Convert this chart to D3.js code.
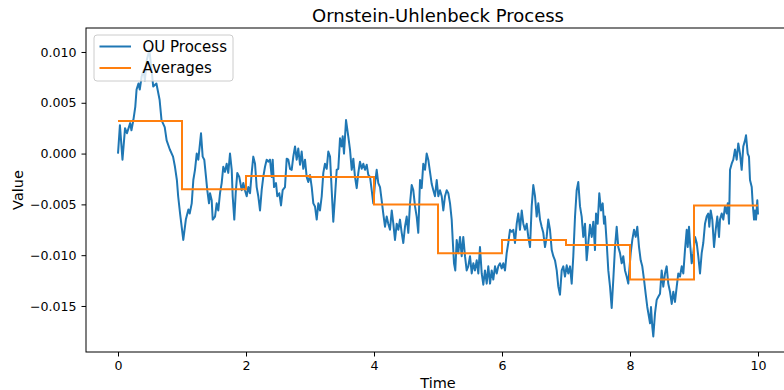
<!DOCTYPE html>
<html>
<head>
<meta charset="utf-8">
<script src="https://cdn.jsdelivr.net/npm/d3@7"></script>
<style>
  body { margin: 0; background: #fff; }
  svg { display: block; font-family: "DejaVu Sans", sans-serif; }
</style>
</head>
<body>
<svg id="chart" width="784" height="390"></svg>
<script>
// OU process
const times = [
  0.000, 0.030, 0.070, 0.110, 0.140, 0.190, 0.210, 0.240, 0.270, 0.290,
  0.320, 0.340, 0.370, 0.400, 0.420, 0.450, 0.490, 0.530, 0.550, 0.600,
  0.650, 0.680, 0.730, 0.760, 0.810, 0.860, 0.890, 0.920, 0.940, 0.970,
  1.020, 1.060, 1.100, 1.120, 1.152, 1.177, 1.203, 1.230, 1.255, 1.281,
  1.297, 1.323, 1.348, 1.375, 1.395, 1.422, 1.438, 1.464, 1.480, 1.516,
  1.542, 1.567, 1.594, 1.620, 1.645, 1.672, 1.698, 1.723, 1.750, 1.777,
  1.792, 1.817, 1.839, 1.864, 1.895, 1.933, 1.958, 1.984, 2.011, 2.036,
  2.063, 2.089, 2.114, 2.141, 2.167, 2.192, 2.219, 2.245, 2.270, 2.297,
  2.323, 2.348, 2.375, 2.402, 2.417, 2.438, 2.469, 2.489, 2.520, 2.547,
  2.573, 2.609, 2.636, 2.661, 2.688, 2.714, 2.739, 2.766, 2.792, 2.817,
  2.844, 2.870, 2.895, 2.922, 2.948, 2.973, 3.000, 3.027, 3.052, 3.078,
  3.105, 3.130, 3.156, 3.183, 3.208, 3.234, 3.261, 3.286, 3.313, 3.339,
  3.364, 3.391, 3.417, 3.442, 3.469, 3.495, 3.511, 3.531, 3.563, 3.598,
  3.625, 3.652, 3.677, 3.703, 3.730, 3.755, 3.781, 3.808, 3.833, 3.859,
  3.886, 3.911, 3.938, 3.964, 3.989, 4.016, 4.042, 4.067, 4.094, 4.120,
  4.145, 4.172, 4.198, 4.223, 4.250, 4.277, 4.302, 4.328, 4.355, 4.380,
  4.406, 4.433, 4.458, 4.484, 4.511, 4.536, 4.563, 4.589, 4.614, 4.641,
  4.667, 4.692, 4.719, 4.745, 4.770, 4.797, 4.823, 4.848, 4.875, 4.902,
  4.927, 4.953, 4.980, 5.005, 5.031, 5.058, 5.083, 5.109, 5.136, 5.161,
  5.188, 5.214, 5.230, 5.250, 5.270, 5.292, 5.317, 5.344, 5.370, 5.395,
  5.422, 5.448, 5.473, 5.500, 5.527, 5.552, 5.578, 5.605, 5.630, 5.656,
  5.683, 5.708, 5.734, 5.761, 5.786, 5.813, 5.839, 5.864, 5.891, 5.917,
  5.942, 5.969, 5.995, 6.020, 6.047, 6.073, 6.098, 6.125, 6.152, 6.177,
  6.203, 6.230, 6.255, 6.281, 6.308, 6.333, 6.359, 6.386, 6.411, 6.438,
  6.464, 6.489, 6.516, 6.542, 6.567, 6.594, 6.620, 6.645, 6.672, 6.698,
  6.723, 6.750, 6.777, 6.802, 6.828, 6.855, 6.880, 6.906, 6.933, 6.958,
  6.984, 7.011, 7.036, 7.063, 7.089, 7.114, 7.141, 7.167, 7.192, 7.219,
  7.245, 7.270, 7.297, 7.323, 7.348, 7.375, 7.402, 7.427, 7.453, 7.469,
  7.495, 7.520, 7.547, 7.573, 7.594, 7.609, 7.636, 7.661, 7.688, 7.714,
  7.739, 7.766, 7.792, 7.817, 7.844, 7.870, 7.895, 7.922, 7.948, 7.973,
  7.989, 8.011, 8.036, 8.063, 8.089, 8.114, 8.141, 8.167, 8.192, 8.219,
  8.245, 8.270, 8.297, 8.313, 8.328, 8.348, 8.364, 8.391, 8.417, 8.442,
  8.469, 8.495, 8.520, 8.547, 8.573, 8.598, 8.625, 8.652, 8.677, 8.703,
  8.730, 8.755, 8.781, 8.808, 8.833, 8.859, 8.886, 8.902, 8.922, 8.938,
  8.964, 8.989, 9.016, 9.042, 9.067, 9.094, 9.120, 9.145, 9.172, 9.198,
  9.223, 9.239, 9.261, 9.286, 9.313, 9.339, 9.364, 9.391, 9.406, 9.433,
  9.458, 9.484, 9.511, 9.527, 9.547, 9.563, 9.589, 9.614, 9.641, 9.667,
  9.692, 9.719, 9.745, 9.770, 9.797, 9.813, 9.839, 9.859, 9.875, 9.902,
  9.917, 9.938, 9.953, 9.969, 9.989, 10.000
];

const ouValues = [
  0.0000, 0.0028, -0.0006, 0.0025, 0.0020, 0.0030, 0.0023, 0.0033, 0.0046, 0.0063,
  0.0069, 0.0063, 0.0076, 0.0082, 0.0072, 0.0092, 0.0102, 0.0079, 0.0066, 0.0069,
  0.0053, 0.0033, 0.0026, 0.0013, 0.0004, -0.0003, -0.0013, -0.0026, -0.0042, -0.0059,
  -0.0085, -0.0065, -0.0055, -0.0059, -0.0049, -0.0026, -0.0016, 0.0000, -0.0006, 0.0010,
  0.0020, -0.0003, -0.0006, -0.0023, -0.0036, -0.0049, -0.0039, -0.0046, -0.0065, -0.0062,
  -0.0049, -0.0056, -0.0039, -0.0029, -0.0013, -0.0018, -0.0010, -0.0019, 0.0000, -0.0016,
  -0.0042, -0.0065, -0.0039, -0.0019, -0.0023, -0.0036, -0.0029, -0.0036, -0.0042, -0.0033,
  -0.0039, -0.0019, -0.0003, -0.0010, -0.0033, -0.0042, -0.0056, -0.0036, -0.0023, -0.0013,
  -0.0006, -0.0008, -0.0006, -0.0023, -0.0006, -0.0033, -0.0029, -0.0042, -0.0039, -0.0051,
  -0.0036, -0.0033, -0.0005, -0.0006, -0.0015, -0.0016, -0.0003, 0.0007, -0.0006, 0.0005,
  -0.0011, 0.0002, -0.0015, -0.0006, -0.0023, -0.0028, -0.0021, -0.0033, -0.0049, -0.0052,
  -0.0065, -0.0049, -0.0056, -0.0042, -0.0019, -0.0010, -0.0015, 0.0002, -0.0003, -0.0036,
  -0.0067, -0.0042, -0.0016, -0.0015, 0.0015, 0.0007, 0.0017, 0.0000, 0.0033, 0.0017,
  0.0004, -0.0016, -0.0005, -0.0023, -0.0034, -0.0019, -0.0008, -0.0015, -0.0010, -0.0016,
  -0.0011, -0.0021, -0.0023, -0.0036, -0.0049, -0.0029, -0.0016, -0.0029, -0.0033, -0.0046,
  -0.0059, -0.0072, -0.0062, -0.0069, -0.0075, -0.0056, -0.0069, -0.0085, -0.0069, -0.0075,
  -0.0065, -0.0078, -0.0088, -0.0072, -0.0062, -0.0078, -0.0049, -0.0031, -0.0036, -0.0052,
  -0.0062, -0.0078, -0.0026, -0.0034, -0.0010, -0.0016, 0.0000, -0.0006, -0.0018, -0.0030,
  -0.0036, -0.0042, -0.0026, -0.0042, -0.0036, -0.0042, -0.0056, -0.0042, -0.0036, -0.0039,
  -0.0049, -0.0065, -0.0085, -0.0108, -0.0115, -0.0085, -0.0098, -0.0082, -0.0101, -0.0082,
  -0.0101, -0.0115, -0.0111, -0.0101, -0.0118, -0.0108, -0.0115, -0.0105, -0.0118, -0.0092,
  -0.0118, -0.0129, -0.0115, -0.0128, -0.0111, -0.0128, -0.0115, -0.0124, -0.0111, -0.0118,
  -0.0111, -0.0108, -0.0113, -0.0108, -0.0115, -0.0098, -0.0088, -0.0075, -0.0077, -0.0075,
  -0.0088, -0.0069, -0.0059, -0.0075, -0.0056, -0.0069, -0.0075, -0.0069, -0.0082, -0.0092,
  -0.0052, -0.0031, -0.0042, -0.0062, -0.0049, -0.0065, -0.0072, -0.0078, -0.0092, -0.0082,
  -0.0065, -0.0075, -0.0095, -0.0101, -0.0105, -0.0115, -0.0131, -0.0139, -0.0115, -0.0111,
  -0.0121, -0.0110, -0.0118, -0.0111, -0.0128, -0.0101, -0.0062, -0.0036, -0.0028, -0.0052,
  -0.0062, -0.0082, -0.0069, -0.0105, -0.0088, -0.0070, -0.0082, -0.0067, -0.0095, -0.0059,
  -0.0069, -0.0039, -0.0056, -0.0049, -0.0069, -0.0062, -0.0088, -0.0115, -0.0131, -0.0152,
  -0.0124, -0.0092, -0.0072, -0.0092, -0.0098, -0.0108, -0.0101, -0.0115, -0.0121, -0.0128,
  -0.0115, -0.0098, -0.0085, -0.0075, -0.0082, -0.0072, -0.0092, -0.0105, -0.0111, -0.0124,
  -0.0138, -0.0151, -0.0161, -0.0167, -0.0151, -0.0170, -0.0180, -0.0157, -0.0144, -0.0141,
  -0.0138, -0.0115, -0.0131, -0.0118, -0.0111, -0.0128, -0.0136, -0.0148, -0.0136, -0.0146,
  -0.0131, -0.0118, -0.0121, -0.0111, -0.0118, -0.0095, -0.0075, -0.0092, -0.0072, -0.0088,
  -0.0108, -0.0098, -0.0082, -0.0088, -0.0101, -0.0118, -0.0098, -0.0088, -0.0069, -0.0062,
  -0.0059, -0.0072, -0.0056, -0.0065, -0.0092, -0.0075, -0.0062, -0.0082, -0.0065, -0.0059,
  -0.0065, -0.0052, -0.0059, -0.0049, -0.0069, -0.0016, -0.0010, -0.0006, 0.0004, -0.0006,
  0.0010, 0.0000, -0.0016, 0.0007, 0.0013, 0.0018, 0.0000, -0.0003, -0.0026, -0.0033,
  -0.0049, -0.0065, -0.0056, -0.0065, -0.0046, -0.0060
];

// averages over each unit interval
const avgStarts = [0, 1, 2, 3, 4, 5, 6, 7, 8, 9];
const avgValues = [0.0032, -0.0035, -0.0022, -0.0023, -0.0050, -0.0098, -0.0085, -0.0090, -0.0124, -0.0051];

const xTicks = [0, 2, 4, 6, 8, 10];
const yTicks = [0.010, 0.005, 0.000, -0.005, -0.010, -0.015];

const width = 784;
const height = 390;
const margin = { top: 28, right: -6, bottom: 38, left: 86 };

const svg = d3.select('#chart');

const x = d3.scaleLinear()
  .domain([-0.5, 10.5])
  .range([margin.left, width - margin.right]);

const y = d3.scaleLinear()
  .domain([-0.01953, 0.01236])
  .range([height - margin.bottom, margin.top]);

const ouData = times.map((t, i) => ({ t: t, v: ouValues[i] }));

// step line for averages: each level held over [start, start + 1]
const avgData = [];
avgStarts.forEach((s, i) => {
  avgData.push({ t: s, v: avgValues[i] });
  avgData.push({ t: s + 1, v: avgValues[i] });
});

const clip = svg.append('defs').append('clipPath').attr('id', 'plot-clip');
clip.append('rect')
  .attr('x', margin.left)
  .attr('y', margin.top)
  .attr('width', width - margin.right - margin.left)
  .attr('height', height - margin.bottom - margin.top);

const line = d3.line()
  .x(d => x(d.t))
  .y(d => y(d.v));

const plot = svg.append('g').attr('clip-path', 'url(#plot-clip)');

plot.append('path')
  .datum(ouData)
  .attr('fill', 'none')
  .attr('stroke', '#1f77b4')
  .attr('stroke-width', 2)
  .attr('stroke-linejoin', 'round')
  .attr('d', line);

plot.append('path')
  .datum(avgData)
  .attr('fill', 'none')
  .attr('stroke', '#ff7f0e')
  .attr('stroke-width', 2)
  .attr('d', line);

// axes
const fmt = d3.format('.3f');

const xAxis = svg.append('g')
  .attr('transform', `translate(0,${height - margin.bottom})`)
  .call(d3.axisBottom(x).tickValues(xTicks).tickSizeOuter(0).tickSize(4.5).tickPadding(5));

const yAxis = svg.append('g')
  .attr('transform', `translate(${margin.left},0)`)
  .call(d3.axisLeft(y).tickValues(yTicks).tickFormat(fmt).tickSizeOuter(0).tickSize(4.5).tickPadding(5));

[xAxis, yAxis].forEach(a => {
  a.select('.domain').remove();
  a.selectAll('line').attr('stroke', '#000').attr('stroke-width', 1);
  a.selectAll('text')
    .attr('fill', '#000')
    .style('font-family', '"DejaVu Sans", sans-serif')
    .style('font-size', '12.6px');
});

// spines
svg.append('rect')
  .attr('x', margin.left)
  .attr('y', margin.top)
  .attr('width', width - margin.right - margin.left)
  .attr('height', height - margin.bottom - margin.top)
  .attr('fill', 'none')
  .attr('stroke', '#000')
  .attr('stroke-width', 1);

// title and labels
svg.append('text')
  .attr('x', (margin.left + width - margin.right) / 2)
  .attr('y', 22)
  .attr('text-anchor', 'middle')
  .style('font-size', '18px')
  .text('Ornstein-Uhlenbeck Process');

svg.append('text')
  .attr('x', (margin.left + width - margin.right) / 2)
  .attr('y', 388)
  .attr('text-anchor', 'middle')
  .style('font-size', '14.5px')
  .text('Time');

svg.append('text')
  .attr('transform', `translate(23,${(margin.top + height - margin.bottom) / 2}) rotate(-90)`)
  .attr('text-anchor', 'middle')
  .style('font-size', '14.5px')
  .text('Value');

// legend
const legend = svg.append('g').attr('transform', 'translate(94,35)');

legend.append('rect')
  .attr('width', 139)
  .attr('height', 46)
  .attr('rx', 3)
  .attr('fill', '#fff')
  .attr('fill-opacity', 0.8)
  .attr('stroke', '#cccccc')
  .attr('stroke-width', 1);

const entries = [
  { name: 'OU Process', color: '#1f77b4' },
  { name: 'Averages', color: '#ff7f0e' }
];

entries.forEach((e, i) => {
  const row = legend.append('g').attr('transform', `translate(0,${11.5 + i * 21.5})`);
  row.append('line')
    .attr('x1', 5.5).attr('x2', 37)
    .attr('y1', 0).attr('y2', 0)
    .attr('stroke', e.color)
    .attr('stroke-width', 2);
  row.append('text')
    .attr('x', 48.5)
    .attr('y', 5)
    .style('font-size', '15px')
    .text(e.name);
});
</script>
</body>
</html>
